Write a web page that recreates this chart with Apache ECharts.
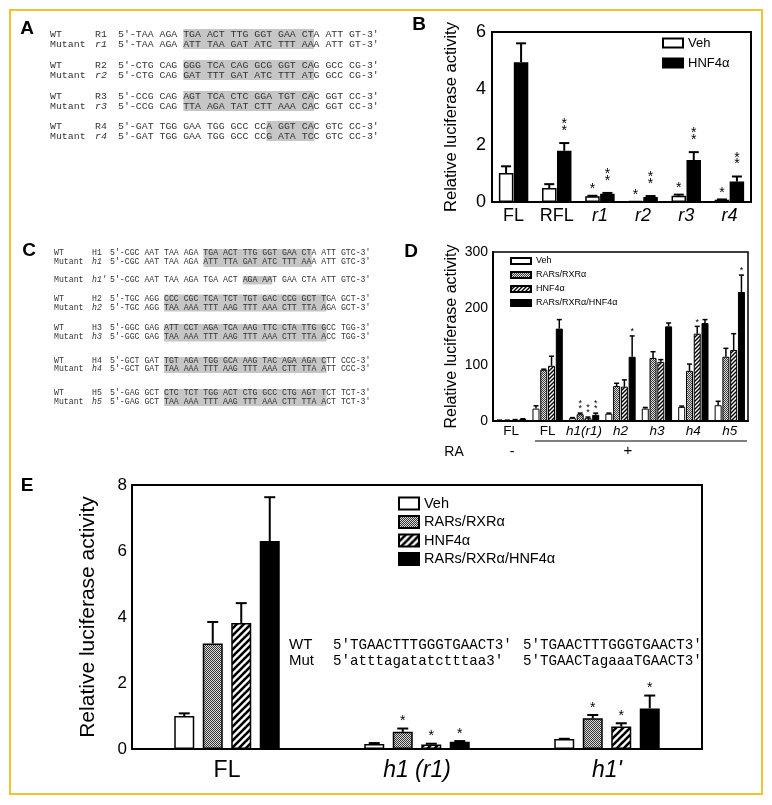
<!DOCTYPE html>
<html><head><meta charset="utf-8">
<script src="https://cdn.jsdelivr.net/npm/echarts@6/dist/echarts.min.js"></script>
<style>html,body{margin:0;padding:0;background:#fff}#c{width:772px;height:805px}</style>
</head><body><div id="c"></div>
<script>
const SANS = '"Liberation Sans", Arial, sans-serif';
const MONO = '"Liberation Mono", "Courier New", monospace';

// ---------- Panel B data ----------
const bCats = ['FL', 'RFL', 'r1', 'r2', 'r3', 'r4'];
const bItalic = ['r1', 'r2', 'r3', 'r4'];
const bVeh = [1.02, 0.49, 0.20, 0.04, 0.22, 0.08];
const bVehTop = [1.26, 0.63, 0.22, 0.04, 0.26, 0.09];
const bHnf = [4.93, 1.81, 0.29, 0.18, 1.48, 0.72];
const bHnfTop = [5.60, 2.08, 0.32, 0.21, 1.76, 0.90];
const bVehStar = ['', '', '*', '*', '*', '*'];
const bHnfStar = ['', '**', '**', '**', '**', '**'];
const bNames = ['Veh', 'HNF4α'];

// ---------- Panel D data ----------
const dCats = ['FL-', 'FL+', 'h1(r1)', 'h2', 'h3', 'h4', 'h5'];
const dLabels = ['FL', 'FL', 'h1(r1)', 'h2', 'h3', 'h4', 'h5'];
const dItalic = ['h1(r1)', 'h2', 'h3', 'h4', 'h5'];
const dVeh = [1, 22, 5, 13, 22, 25, 28];
const dVehTop = [1.5, 27, 6, 14, 24, 26.5, 35];
const dRar = [1, 91, 12, 62, 112, 89, 114];
const dRarTop = [1.5, 92, 14, 67, 123, 101, 129];
const dHnf = [2, 98, 5, 61, 105, 155, 126];
const dHnfTop = [2.5, 115, 7, 73, 109, 168, 155];
const dBoth = [3.5, 164, 11, 114, 168, 174, 229];
const dBothTop = [4, 180, 14, 151, 174, 180, 259];
const dVehStar = ['', '', '', '', '', '', ''];
const dRarStar = ['', '', '**', '', '', '', ''];
const dHnfStar = ['', '', '**', '', '', '*', ''];
const dBothStar = ['', '', '**', '*', '', '', '*'];
const groupNames = ['Veh', 'RARs/RXRα', 'HNF4α', 'RARs/RXRα/HNF4α'];

// ---------- Panel E data ----------
const eCats = ['FL', 'h1 (r1)', "h1'"];
const eItalic = ['h1 (r1)', "h1'"];
const eVeh = [1.0, 0.15, 0.30];
const eVehTop = [1.08, 0.18, 0.31];
const eRar = [3.2, 0.52, 0.93];
const eRarTop = [3.85, 0.62, 1.03];
const eHnf = [3.82, 0.14, 0.68];
const eHnfTop = [4.42, 0.16, 0.78];
const eBoth = [6.3, 0.22, 1.23];
const eBothTop = [7.63, 0.24, 1.62];
const eVehStar = ['', '', ''];
const eRarStar = ['', '*', '*'];
const eHnfStar = ['', '*', '*'];
const eBothStar = ['', '*', '*'];

// ---------- Sequence texts (panels A, C, E) ----------
const seqA = [
  ['WT', 'R1', "5'-TAA AGA TGA ACT TTG GGT GAA CTA ATT GT-3'"],
  ['Mutant', 'r1', "5'-TAA AGA ATT TAA GAT ATC TTT AAA ATT GT-3'"],
  ['WT', 'R2', "5'-CTG CAG GGG TCA CAG GCG GGT CAG GCC CG-3'"],
  ['Mutant', 'r2', "5'-CTG CAG GAT TTT GAT ATC TTT ATG GCC CG-3'"],
  ['WT', 'R3', "5'-CCG CAG AGT TCA CTC GGA TGT CAC GGT CC-3'"],
  ['Mutant', 'r3', "5'-CCG CAG TTA AGA TAT CTT AAA CAC GGT CC-3'"],
  ['WT', 'R4', "5'-GAT TGG GAA TGG GCC CCA GGT CAC GTC CC-3'"],
  ['Mutant', 'r4', "5'-GAT TGG GAA TGG GCC CCG ATA TCC GTC CC-3'"]
];
const seqARowY = [34, 44, 65, 75, 96, 106, 126, 136];
const seqAHl = [[11, 33, 29, 49], [11, 33, 60, 80], [11, 33, 91, 111], [25, 33, 121, 141]];

const seqC = [
  ['WT', 'H1', "5'-CGC AAT TAA AGA TGA ACT TTG GGT GAA CTA ATT GTC-3'"],
  ['Mutant', 'h1', "5'-CGC AAT TAA AGA ATT TTA GAT ATC TTT AAA ATT GTC-3'"],
  ['Mutant', "h1'", "5'-CGC AAT TAA AGA TGA ACT AGA AAT GAA CTA ATT GTC-3'"],
  ['WT', 'H2', "5'-TGC AGG CCC CGC TCA TCT TGT GAC CCG GCT TGA GCT-3'"],
  ['Mutant', 'h2', "5'-TGC AGG TAA AAA TTT AAG TTT AAA CTT TTA AGA GCT-3'"],
  ['WT', 'H3', "5'-GGC GAG ATT CCT AGA TCA AAG TTC CTA TTG GCC TGG-3'"],
  ['Mutant', 'h3', "5'-GGC GAG TAA AAA TTT AAG TTT AAA CTT TTA ACC TGG-3'"],
  ['WT', 'H4', "5'-GCT GAT TGT AGA TGG GCA AAG TAC AGA AGA CTT CCC-3'"],
  ['Mutant', 'h4', "5'-GCT GAT TAA AAA TTT AAG TTT AAA CTT TTA ATT CCC-3'"],
  ['WT', 'H5', "5'-GAG GCT CTC TCT TGG ACT CTG GCC CTG AGT TCT TCT-3'"],
  ['Mutant', 'h5', "5'-GAG GCT TAA AAA TTT AAG TTT AAA CTT TTA ACT TCT-3'"]
];
const seqCRowY = [253, 262, 280, 299, 307.5, 327.5, 336.5, 360.5, 369, 393, 401.5];
const seqCHl = [[19, 41, 249, 267], [27, 33, 276, 284.5], [11, 44, 294.5, 311.5], [11, 44, 324, 341.5], [11, 44, 357, 373], [11, 44, 389, 406]];

const eSeqLabels = ['WT', 'Mut'];
const eSeqCol1 = ["5'TGAACTTTGGGTGAACT3'", "5'atttagatatctttaa3'"];
const eSeqCol2 = ["5'TGAACTTTGGGTGAACT3'", "5'TGAACTagaaaTGAACT3'"];

// ---------- patterns ----------
function checker(dark, light) {
  const c = document.createElement('canvas'); c.width = 2; c.height = 2;
  const g = c.getContext('2d');
  g.fillStyle = light; g.fillRect(0, 0, 2, 2);
  g.fillStyle = dark; g.fillRect(0, 0, 1, 1); g.fillRect(1, 1, 1, 1);
  return { image: c, repeat: 'repeat' };
}
function stripes(P, lw) {
  const c = document.createElement('canvas'); c.width = P; c.height = P;
  const g = c.getContext('2d');
  g.fillStyle = '#fff'; g.fillRect(0, 0, P, P);
  g.strokeStyle = '#000'; g.lineWidth = lw;
  for (const o of [-P, 0, P]) { g.beginPath(); g.moveTo(o - 1, P + 1); g.lineTo(o + P + 1, -1); g.stroke(); }
  return { image: c, repeat: 'repeat' };
}
const chkD = checker('#3a3a3a', '#e0e0e0');
const chkE = checker('#333333', '#dddddd');
const strD = stripes(4, 1.4);
const strE = stripes(7, 2.6);

function barSeries(name, xi, data, fill, bw, gap, bwid) {
  return {
    name, type: 'bar', xAxisIndex: xi, yAxisIndex: xi, data,
    barWidth: bw, barGap: gap, silent: true,
    itemStyle: { color: fill, borderColor: '#000', borderWidth: bwid }
  };
}
function errSeries(xi, vals, tops, stars, k, n, bw, gap, cap, lw, sfs, soff, sstep) {
  return {
    type: 'custom', xAxisIndex: xi, yAxisIndex: xi, z: 10, silent: true,
    data: vals.map((v, i) => [i, v, tops[i]]),
    encode: { x: 0, y: [1, 2] },
    renderItem(params, api) {
      const i = api.value(0), v = api.value(1), t = api.value(2);
      const p0 = api.coord([i, v]);
      const p1 = api.coord([i, t]);
      const cx = p0[0] + (k - (n - 1) / 2) * (bw + gap);
      const ch = [];
      if (t > v) {
        ch.push({ type: 'line', shape: { x1: cx, y1: p0[1], x2: cx, y2: p1[1] }, style: { stroke: '#000', lineWidth: lw } });
        ch.push({ type: 'line', shape: { x1: cx - cap / 2, y1: p1[1], x2: cx + cap / 2, y2: p1[1] }, style: { stroke: '#000', lineWidth: lw } });
      }
      const s = stars[i];
      if (s) {
        for (let j = 0; j < s.length; j++) {
          const yc = Math.min(p0[1], p1[1]) - soff - j * sstep;
          ch.push({ type: 'text', x: cx, y: yc + 0.2 * sfs,
            style: { text: '*', font: sfs + 'px ' + SANS, fill: '#000', textAlign: 'center', textVerticalAlign: 'middle' } });
        }
      }
      return { type: 'group', children: ch };
    }
  };
}

function italicFmt(list, labels) {
  return (v, idx) => {
    const t = labels ? labels[idx] : v;
    return list.indexOf(t) >= 0 ? '{i|' + t + '}' : t;
  };
}

// ---------- graphics ----------
const gfx = [];
gfx.push({ type: 'rect', shape: { x: 10, y: 10, width: 752, height: 784 }, style: { fill: 'none', stroke: '#f2c230', lineWidth: 2 }, z: 100 });
const letters = [['A', 27, 29], ['B', 419, 25], ['C', 29, 251], ['D', 411, 252], ['E', 27, 486]];
letters.forEach(([t, x, y]) => gfx.push({ type: 'text', x, y, style: { text: t, font: 'bold 19px ' + SANS, fill: '#000', textAlign: 'center', textVerticalAlign: 'middle' } }));

function seqBlock(rows, rowY, hls, xs, fs, cw) {
  hls.forEach(([a, b, y0, y1]) => gfx.push({ type: 'rect', shape: { x: xs[2] + a * cw, y: y0, width: (b - a) * cw, height: y1 - y0 }, style: { fill: '#c6c6c6' }, z: 1 }));
  rows.forEach((r, i) => {
    const y = rowY[i];
    const it = r[0] === 'Mutant';
    gfx.push({ type: 'text', x: xs[0], y, z: 2, style: { text: r[0], font: fs + 'px ' + MONO, fill: '#333', textVerticalAlign: 'middle' } });
    gfx.push({ type: 'text', x: xs[1], y, z: 2, style: { text: r[1], font: (it ? 'italic ' : '') + fs + 'px ' + MONO, fill: '#333', textVerticalAlign: 'middle' } });
    gfx.push({ type: 'text', x: xs[2], y, z: 2, style: { text: r[2], font: fs + 'px ' + MONO, fill: '#333', textVerticalAlign: 'middle' } });
  });
}
seqBlock(seqA, seqARowY, seqAHl, [50, 95, 118], 9.9, 5.94);
seqBlock(seqC, seqCRowY, seqCHl, [54, 92, 110], 8.2, 4.92);

// D: RA row
gfx.push({ type: 'line', shape: { x1: 535, y1: 441, x2: 747, y2: 441 }, style: { stroke: '#000', lineWidth: 1 } });
gfx.push({ type: 'text', x: 454, y: 452, style: { text: 'RA', font: '14px ' + SANS, fill: '#000', textAlign: 'center', textVerticalAlign: 'middle' } });
gfx.push({ type: 'text', x: 512, y: 452, style: { text: '-', font: '14px ' + SANS, fill: '#000', textAlign: 'center', textVerticalAlign: 'middle' } });
gfx.push({ type: 'text', x: 628, y: 451, style: { text: '+', font: '15px ' + SANS, fill: '#000', textAlign: 'center', textVerticalAlign: 'middle' } });

// E: sequence annotation
[645, 661].forEach((y, i) => {
  gfx.push({ type: 'text', x: 289, y, style: { text: eSeqLabels[i], font: '15px ' + SANS, fill: '#000', textVerticalAlign: 'middle' } });
  gfx.push({ type: 'text', x: 333, y, style: { text: eSeqCol1[i], font: '14.2px ' + MONO, fill: '#000', textVerticalAlign: 'middle' } });
  gfx.push({ type: 'text', x: 523, y, style: { text: eSeqCol2[i], font: '14.2px ' + MONO, fill: '#000', textVerticalAlign: 'middle' } });
});

// ---------- axes ----------
function yAx(gi, max, interval, fs, margin, nameFs, nameGap) {
  return {
    gridIndex: gi, type: 'value', min: 0, max, interval,
    name: 'Relative luciferase activity', nameLocation: 'middle', nameGap,
    nameTextStyle: { fontFamily: SANS, fontSize: nameFs, color: '#000' },
    axisLine: { show: true, lineStyle: { color: '#000', width: 2 } },
    axisTick: { show: false }, splitLine: { show: false },
    axisLabel: { fontFamily: SANS, fontSize: fs, color: '#000', margin }
  };
}
function xAx(gi, cats, fmt, fs, margin) {
  return {
    gridIndex: gi, type: 'category', data: cats,
    axisLine: { show: true, lineStyle: { color: '#000', width: 2 } },
    axisTick: { show: false },
    axisLabel: { fontFamily: SANS, fontSize: fs, color: '#000', margin, formatter: fmt, interval: 0,
      rich: { i: { fontStyle: 'italic', fontFamily: SANS, fontSize: fs, color: '#000' } } }
  };
}

const series = [];
// B
series.push(barSeries('B:' + bNames[0], 0, bVeh, '#fff', 14.5, '3%', 1.5));
series.push(barSeries('B:' + bNames[1], 0, bHnf, '#000', 14.5, '3%', 1.5));
series.push(errSeries(0, bVeh, bVehTop, bVehStar, 0, 2, 14.5, 0.5, 10, 2, 14, 9, 6.5));
series.push(errSeries(0, bHnf, bHnfTop, bHnfStar, 1, 2, 14.5, 0.5, 10, 2, 14, 15, 6.5));
// D
const dFill = ['#fff', chkD, strD, '#000'];
const dVals = [dVeh, dRar, dHnf, dBoth], dTops = [dVehTop, dRarTop, dHnfTop, dBothTop], dStars = [dVehStar, dRarStar, dHnfStar, dBothStar];
for (let k = 0; k < 4; k++) series.push(barSeries('D:' + groupNames[k], 1, dVals[k], dFill[k], 7, '11%', 1));
for (let k = 0; k < 4; k++) series.push(errSeries(1, dVals[k], dTops[k], dStars[k], k, 4, 7, 0.77, 5, 1.5, 9, 6, 5.6));
// E
const eFill = ['#fff', chkE, strE, '#000'];
const eVals = [eVeh, eRar, eHnf, eBoth], eTops = [eVehTop, eRarTop, eHnfTop, eBothTop], eStars = [eVehStar, eRarStar, eHnfStar, eBothStar];
for (let k = 0; k < 4; k++) series.push(barSeries('E:' + groupNames[k], 2, eVals[k], eFill[k], 20, '42.5%', 1.5));
for (let k = 0; k < 4; k++) series.push(errSeries(2, eVals[k], eTops[k], eStars[k], k, 4, 20, 8.5, 11, 2, 14, 10, 6));

const strip = n => n.replace(/^[BDE]:/, '');
const option = {
  animation: false,
  backgroundColor: '#fff',
  grid: [
    { left: 492, top: 32, width: 259, height: 170, show: true, borderColor: '#000', borderWidth: 2, backgroundColor: 'transparent' },
    { left: 493, top: 252, width: 255, height: 169, show: true, borderColor: '#000', borderWidth: 1.5, backgroundColor: 'transparent' },
    { left: 132, top: 485, width: 570, height: 264, show: true, borderColor: '#000', borderWidth: 2, backgroundColor: 'transparent' }
  ],
  xAxis: [
    xAx(0, bCats, italicFmt(bItalic), 18, 5),
    xAx(1, dCats, italicFmt(dItalic, dLabels), 13.5, 3),
    xAx(2, eCats, italicFmt(eItalic), 23, 10)
  ],
  yAxis: [
    yAx(0, 6, 2, 18, 6, 16.5, 32),
    yAx(1, 300, 100, 14, 5, 16, 33),
    yAx(2, 8, 2, 17, 5, 21, 33)
  ],
  legend: [
    { data: bNames.map(n => 'B:' + n), formatter: strip, icon: 'rect', orient: 'vertical', left: 657, top: 31.5, itemWidth: 20, itemHeight: 9, itemGap: 7, selectedMode: false,
      textStyle: { fontFamily: SANS, fontSize: 13, lineHeight: 13, color: '#000' } },
    { data: groupNames.map(n => 'D:' + n), formatter: strip, icon: 'rect', orient: 'vertical', left: 505, top: 251.5, itemWidth: 20, itemHeight: 6, itemGap: 5, selectedMode: false,
      textStyle: { fontFamily: SANS, fontSize: 9, lineHeight: 9, color: '#000' } },
    { data: groupNames.map(n => 'E:' + n), formatter: strip, icon: 'rect', orient: 'vertical', left: 393, top: 491, itemWidth: 20, itemHeight: 12, itemGap: 3.5, selectedMode: false,
      textStyle: { fontFamily: SANS, fontSize: 14.5, lineHeight: 14, color: '#000' } }
  ],
  graphic: { elements: gfx },
  series
};
const chart = echarts.init(document.getElementById('c'), null, { renderer: 'canvas' });
chart.setOption(option);
</script></body></html>
